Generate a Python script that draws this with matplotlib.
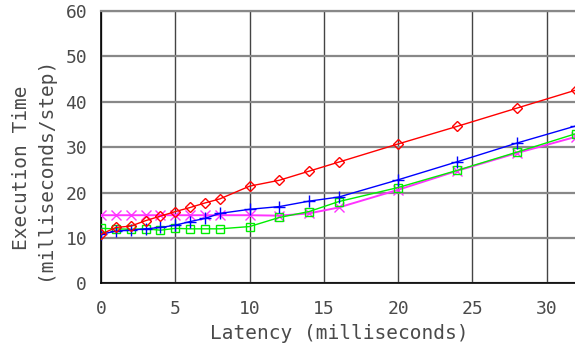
import matplotlib
matplotlib.use("Agg")
import matplotlib.pyplot as plt

# latency values (ms) at which each run was measured
latency = [0, 1, 2, 3, 4, 5, 6, 7, 8, 10, 12, 14, 16, 20, 24, 28, 32]

# execution time (ms/step) for the four runs
red_diamond = [10.8, 12.3, 12.6, 13.8, 14.8, 15.8, 16.7, 17.7, 18.6, 21.4, 22.7,
               24.7, 26.7, 30.7, 34.6, 38.6, 42.6]
blue_plus = [10.8, 11.5, 11.7, 12.0, 12.3, 12.8, 13.6, 14.3, 15.4, 16.3, 16.9,
             18.1, 19.0, 22.8, 26.8, 30.9, 34.7]
magenta_x = [15.0, 15.0, 15.0, 15.0, 15.0, 15.0, 15.0, 15.0, 15.0, 15.0, 14.9,
             15.4, 16.7, 20.6, 24.8, 28.7, 32.3]
green_square = [12.1, 12.0, 11.9, 12.0, 11.7, 12.1, 12.0, 12.0, 12.0, 12.5, 14.5,
                15.8, 18.0, 21.1, 24.9, 28.9, 33.0]

x_ticks = [0, 5, 10, 15, 20, 25, 30]
y_ticks = [0, 10, 20, 30, 40, 50, 60]

mono = "DejaVu Sans Mono"
fig = plt.figure(figsize=(5.75, 3.5), dpi=100)
ax = fig.add_axes([0.1757, 0.1906, 0.8266, 0.7780])

ax.plot(latency, magenta_x, color="#ff33ff", lw=1.4, marker="x", ms=7, mew=1, zorder=3)
ax.plot(latency, green_square, color="#00ee00", lw=1, marker="s", ms=6,
        fillstyle="none", mew=1, zorder=4)
ax.plot(latency, blue_plus, color="#0000ff", lw=1, marker="+", ms=9, mew=1, zorder=5)
ax.plot(latency, red_diamond, color="#ff0000", lw=1, marker="D", ms=5.5,
        fillstyle="none", mew=1, zorder=6)

ax.set_xlim(0, 32)
ax.set_ylim(0, 60)
ax.set_xticks(x_ticks)
ax.set_yticks(y_ticks)
ax.tick_params(length=0, labelsize=13, labelcolor="#4a4a4a")
ax.tick_params(axis="y", pad=10)
ax.tick_params(axis="x", pad=12)
for lab in ax.get_xticklabels() + ax.get_yticklabels():
    lab.set_family(mono)

ax.yaxis.grid(True, color="#888888", lw=1.6)
ax.xaxis.grid(True, color="#444444", lw=1)
ax.set_axisbelow(True)
for side in ["left", "bottom"]:
    ax.spines[side].set_color("black")
    ax.spines[side].set_linewidth(1.2)
ax.spines["top"].set_color("#888888")
ax.spines["top"].set_linewidth(1.6)
ax.spines["right"].set_visible(False)

fig.text(0.59, 0.048, "Latency (milliseconds)", family=mono, fontsize=14,
         color="#4a4a4a", ha="center", va="center")
fig.text(0.057, 0.52, "Execution Time\n(milliseconds/step)", family=mono,
         fontsize=14, color="#4a4a4a", ha="center", va="center", rotation=90,
         linespacing=1.3)

fig.savefig("out.png", dpi=100)
